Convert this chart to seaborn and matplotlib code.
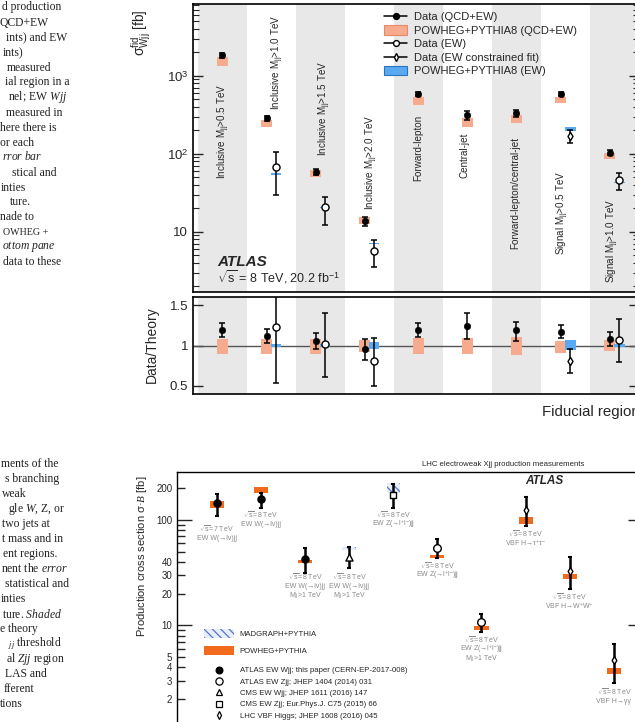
import numpy as np
import matplotlib
matplotlib.use("Agg")
import matplotlib.pyplot as plt
import matplotlib.transforms as mtrans
from matplotlib.lines import Line2D
from matplotlib.patches import Patch
from matplotlib.ticker import FixedLocator, FixedFormatter, NullFormatter
import seaborn as sns

# ---------------- top figure: W+2 jet fiducial cross sections ----------------
region_names = [
    r"Inclusive M$_{\rm jj}$>0.5 TeV", r"Inclusive M$_{\rm jj}$>1.0 TeV",
    r"Inclusive M$_{\rm jj}$>1.5 TeV", r"Inclusive M$_{\rm jj}$>2.0 TeV",
    "Forward-lepton", "Central-jet", "Forward-lepton/central-jet",
    r"Signal M$_{\rm jj}$>0.5 TeV", r"Signal M$_{\rm jj}$>1.0 TeV",
]
# QCD+EW data and POWHEG+PYTHIA8 prediction band [fb]
qcd_data = [1820, 285, 59, 13.8, 582, 313, 336, 582, 103]
qcd_lo = [1690, 264, 54, 11.8, 545, 272, 300, 548, 96]
qcd_hi = [1950, 306, 64, 15.6, 622, 352, 363, 618, 111]
qcd_theory_lo = [1330, 222, 50, 12.6, 421, 220, 248, 443, 86]
qcd_theory_hi = [1740, 270, 62, 15.3, 538, 287, 313, 528, 103]
# EW-only data (regions that have it) and POWHEG+PYTHIA8 (EW)
ew_regions = [1, 2, 3, 7, 8]
ew_data = [67.5, 20.6, 5.7, 170, 46]
ew_lo = [29.5, 12.2, 3.6, 139, 34.3]
ew_hi = [105, 28.1, 7.8, 203, 57]
ew_theory_lo = [54, 20.0, 6.9, 197, 42]
ew_theory_hi = [56, 21.0, 7.3, 222, 44]
ew_is_fit = [False, False, False, True, False]

# Data/Theory ratios
ratio_qcd = [1.195, 1.12, 1.06, 0.955, 1.195, 1.244, 1.186, 1.17, 1.08]
ratio_qcd_lo = [1.10, 1.03, 0.955, 0.82, 1.10, 1.08, 1.06, 1.09, 1.00]
ratio_qcd_hi = [1.28, 1.20, 1.16, 1.08, 1.28, 1.40, 1.29, 1.25, 1.17]
ratio_qcd_band_lo = [0.90, 0.90, 0.90, 0.92, 0.90, 0.90, 0.885, 0.91, 0.93]
ratio_qcd_band_hi = [1.08, 1.08, 1.08, 1.07, 1.09, 1.09, 1.10, 1.06, 1.07]
ratio_ew = [1.228, 1.017, 0.814, 0.81, 1.07]
ratio_ew_lo = [0.54, 0.616, 0.504, 0.665, 0.80]
ratio_ew_hi = [1.91, 1.40, 1.09, 0.955, 1.33]
ratio_ew_band_lo = [0.985, 0.985, 0.96, 0.94, 0.985]
ratio_ew_band_hi = [1.015, 1.015, 1.04, 1.07, 1.015]

# ---------------- bottom figure: LHC electroweak Xjj summary ----------------
meas_kind = ["atlas_wjj", "atlas_wjj", "atlas_wjj", "cms_wjj", "cms_zjj",
             "atlas_zjj", "atlas_zjj", "vbf_h", "vbf_h", "vbf_h"]
meas_value = [144, 157, 42.8, 44.4, 172, 54.7, 10.9, 124, 33, 4.73]
meas_lo = [109, 131, 31.7, 35, 129, 43.5, 8.6, 88, 22, 2.88]
meas_hi = [175, 181, 54, 55, 217, 65.6, 12.9, 164, 45, 6.7]
pred_gen = ["POWHEG", "POWHEG", "POWHEG", "MADGRAPH", "MADGRAPH",
            "POWHEG", "POWHEG", "POWHEG", "POWHEG", "POWHEG"]
pred_lo = [131, 181, 39.4, 52, 181, 44, 9.0, 92, 27.5, 3.49]
pred_hi = [152, 204, 41.7, 55.3, 222, 47, 9.9, 106, 30.6, 3.95]
meas_labels = [
    "$\\sqrt{\\rm s}$=7 TeV\nEW W(→lν)jj",
    "$\\sqrt{\\rm s}$=8 TeV\nEW W(→lν)jj",
    "$\\sqrt{\\rm s}$=8 TeV\nEW W(→lν)jj\nM$_{\\rm jj}$>1 TeV",
    "$\\sqrt{\\rm s}$=8 TeV\nEW W(→lν)jj\nM$_{\\rm jj}$>1 TeV",
    "$\\sqrt{\\rm s}$=8 TeV\nEW Z(→l$^{+}$l$^{-}$)jj",
    "$\\sqrt{\\rm s}$=8 TeV\nEW Z(→l$^{+}$l$^{-}$)jj",
    "$\\sqrt{\\rm s}$=8 TeV\nEW Z(→l$^{+}$l$^{-}$)jj\nM$_{\\rm jj}$>1 TeV",
    "$\\sqrt{\\rm s}$=8 TeV\nVBF H→τ$^{+}$τ$^{-}$",
    "$\\sqrt{\\rm s}$=8 TeV\nVBF H→W$^{+}$W$^{-}$",
    "$\\sqrt{\\rm s}$=8 TeV\nVBF H→γγ",
]
# first-line centre of each gray label, in image pixels (layout only)
label_row_px = [529, 515, 577, 577, 515, 566, 640, 534, 597, 692]
kind_legend = [
    ("atlas_wjj", "ATLAS EW Wjj; this paper (CERN-EP-2017-008)"),
    ("atlas_zjj", "ATLAS EW Zjj; JHEP 1404 (2014) 031"),
    ("cms_wjj", "CMS EW Wjj; JHEP 1611 (2016) 147"),
    ("cms_zjj", "CMS EW Zjj; Eur.Phys.J. C75 (2015) 66"),
    ("vbf_h", "LHC VBF Higgs; JHEP 1608 (2016) 045"),
]

# caption fragments of the page (text, right edge px, centre y px)
caption_top = [
    ("d production", 61, 7), ("QCD+EW", 49, 23), ("ints) and EW", 67, 37),
    ("ints)", 23, 53), ("measured", 51, 68), ("ial region in a", 70, 82),
    (r"nel; EW $\mathit{Wjj}$", 67, 97), ("measured in", 62, 113),
    ("here there is", 57, 128), ("or each", 34, 143), (r"$\mathit{rror\ bar}$", 42, 157),
    ("stical and", 57, 173), ("inties", 26, 188), ("ture.", 31, 202),
    ("nade to", 34, 217), ("OWHEG +", 48, 232), (r"$\mathit{ottom\ pane}$", 56, 247),
    ("data to these", 61, 262),
]
caption_bot = [
    ("ments of the", 58, 464), ("s branching", 59, 479), ("weak", 27, 494),
    (r"gle $\mathit{W}$, Z, or", 65, 509), ("two jets at", 50, 524),
    ("t mass and in", 63, 539), ("ent regions.", 57, 554),
    (r"nent the $\mathit{error}$", 68, 569), ("statistical and", 69, 584),
    ("inties", 26, 599), (r"ture. $\mathit{Shaded}$", 62, 614), ("e theory", 38, 629),
    (r"$_{\mathit{jj}}$ threshold", 62, 644), (r"al $\mathit{Zjj}$ region", 65, 659),
    ("LAS and", 47, 674), ("fferent", 34, 689), ("tions", 23, 704),
]

# ---------------- style ----------------
sns.set_style("white")
plt.rcParams["font.family"] = ["Liberation Sans", "DejaVu Sans"]
plt.rcParams["mathtext.fontset"] = "custom"
plt.rcParams["mathtext.rm"] = "Liberation Sans"
plt.rcParams["mathtext.sf"] = "Liberation Sans"
plt.rcParams["mathtext.it"] = "Liberation Serif:italic"
plt.rcParams["mathtext.bf"] = "Liberation Sans:bold"
plt.rcParams["hatch.linewidth"] = 0.9

band_grey = "#e8e8e8"
salmon = "#f6aa8e"
sky = "#58a9f0"
orange = "#f26a1c"
W, H = 635, 722

fig = plt.figure(figsize=(W / 100, H / 100), dpi=100)


def px_axes(left, top, right, bottom):
    return fig.add_axes([left / W, 1 - bottom / H, (right - left) / W, (bottom - top) / H])


def style_frame(ax, lw=1.2):
    for s in ax.spines.values():
        s.set_color("black")
        s.set_linewidth(lw)
    ax.set_facecolor("white")


ax_top = px_axes(193, 4, 639, 292)
ax_rat = px_axes(193, 297, 639, 394)
ax_bot = px_axes(177, 472, 643, 731)

n_reg = len(region_names)
qcd_x = np.array([i + 0.5 - (0.1 if i in ew_regions else 0.0) for i in range(n_reg)])
ew_x = np.array(ew_regions) + 0.6
ew_fit = np.array(ew_is_fit)

# ---- main panel ----
ax = ax_top
for i in range(0, n_reg, 2):
    ax.axvspan(i, i + 1, color=band_grey, lw=0, zorder=0)
ax.bar(qcd_x, np.array(qcd_theory_hi) - np.array(qcd_theory_lo), bottom=qcd_theory_lo,
       width=0.21, color=salmon, lw=0, zorder=2)
ax.bar(ew_x, np.array(ew_theory_hi) - np.array(ew_theory_lo), bottom=ew_theory_lo,
       width=0.21, color=sky, lw=0, zorder=2)
qd = np.array(qcd_data)
ax.errorbar(qcd_x, qd, yerr=[qd - qcd_lo, np.array(qcd_hi) - qd], fmt="none",
            ecolor="k", elinewidth=1.1, capsize=2, capthick=1.1, zorder=3)
ed = np.array(ew_data)
ax.errorbar(ew_x, ed, yerr=[ed - ew_lo, np.array(ew_hi) - ed], fmt="none",
            ecolor="k", elinewidth=1.1, capsize=2, capthick=1.1, zorder=3)
sns.scatterplot(x=qcd_x, y=qd, marker="o", s=22, color="k", edgecolor="k", ax=ax,
                zorder=4, legend=False)
sns.scatterplot(x=ew_x[~ew_fit], y=ed[~ew_fit], marker="o", s=26, color="white",
                edgecolor="k", linewidth=1, ax=ax, zorder=4, legend=False)
sns.scatterplot(x=ew_x[ew_fit], y=ed[ew_fit], marker="d", s=18, color="white",
                edgecolor="k", linewidth=1, ax=ax, zorder=4, legend=False)
ax.set_yscale("log")
ax.set_xlim(-0.1, 9.0)
ax.set_ylim(1.7, 8300)
ax.yaxis.set_major_locator(FixedLocator([10, 100, 1000]))
ax.yaxis.set_major_formatter(FixedFormatter(["10", "10$^{2}$", "10$^{3}$"]))
ax.yaxis.set_minor_locator(FixedLocator([m * 10.0 ** e for e in range(0, 4) for m in range(2, 10)]))
ax.yaxis.set_minor_formatter(NullFormatter())
ax.tick_params(axis="y", which="both", direction="in", left=True, right=True, labelsize=9.5)
ax.tick_params(axis="y", which="major", length=7, width=1)
ax.tick_params(axis="y", which="minor", length=4, width=0.8)
ax.tick_params(axis="x", bottom=False, labelbottom=False)
ax.set_xlabel("")
ax.set_ylabel("")
style_frame(ax)

label_xy = [(224, 131), (278, 62), (325, 108), (372, 162), (418, 148),
            (465, 155), (515, 193), (563, 213), (613, 241)]
for name, (lx, ly) in zip(region_names, label_xy):
    fig.text(lx / W, 1 - ly / H, name, rotation=90, ha="center", va="center", fontsize=7.1)

ax.text((217 - 193) / 446, (292 - 262) / 288, "ATLAS", transform=ax.transAxes,
        fontsize=11, fontweight="bold", fontstyle="italic", va="center", ha="left")
ax.text((217 - 193) / 446, (292 - 277) / 288, "$\\sqrt{\\rm s}$ = 8 TeV, 20.2 fb$^{-1}$",
        transform=ax.transAxes, fontsize=9, va="center", ha="left")

handles = [
    Line2D([], [], color="k", lw=1.1, marker="o", markersize=4.2),
    Patch(facecolor=salmon, edgecolor="#e48a68", lw=0.8),
    Line2D([], [], color="k", lw=1.1, marker="o", markersize=4.2, mfc="white"),
    Line2D([], [], color="k", lw=1.1, marker="d", markersize=3.6, mfc="white"),
    Patch(facecolor=sky, edgecolor="#2f73c0", lw=0.8),
]
labels = ["Data (QCD+EW)", "POWHEG+PYTHIA8 (QCD+EW)", "Data (EW)",
          "Data (EW constrained fit)", "POWHEG+PYTHIA8 (EW)"]
ax.legend(handles, labels, loc="upper left", bbox_to_anchor=(384 / W, 1 - 12 / H),
          bbox_transform=fig.transFigure, frameon=False, fontsize=8, handlelength=2.1,
          handleheight=0.9, handletextpad=0.6, labelspacing=0.27, borderpad=0,
          borderaxespad=0)

fig.text(141 / W, 1 - 33 / H, "σ$^{\\rm fid}_{\\rm Wjj}$ [fb]", rotation=90,
         ha="center", va="center", fontsize=10)

# ---- ratio panel ----
ax = ax_rat
for i in range(0, n_reg, 2):
    ax.axvspan(i, i + 1, color=band_grey, lw=0, zorder=0)
ax.axhline(1, color="#555555", lw=1, zorder=1)
ax.bar(qcd_x, np.array(ratio_qcd_band_hi) - np.array(ratio_qcd_band_lo),
       bottom=ratio_qcd_band_lo, width=0.21, color=salmon, lw=0, zorder=2)
ax.bar(ew_x, np.array(ratio_ew_band_hi) - np.array(ratio_ew_band_lo),
       bottom=ratio_ew_band_lo, width=0.21, color=sky, lw=0, zorder=2)
rq = np.array(ratio_qcd)
ax.errorbar(qcd_x, rq, yerr=[rq - ratio_qcd_lo, np.array(ratio_qcd_hi) - rq], fmt="none",
            ecolor="k", elinewidth=1.1, capsize=2, capthick=1.1, zorder=3)
re = np.array(ratio_ew)
ax.errorbar(ew_x, re, yerr=[re - ratio_ew_lo, np.array(ratio_ew_hi) - re], fmt="none",
            ecolor="k", elinewidth=1.1, capsize=2, capthick=1.1, zorder=3)
sns.scatterplot(x=qcd_x, y=rq, marker="o", s=22, color="k", edgecolor="k", ax=ax,
                zorder=4, legend=False)
sns.scatterplot(x=ew_x[~ew_fit], y=re[~ew_fit], marker="o", s=26, color="white",
                edgecolor="k", linewidth=1, ax=ax, zorder=4, legend=False)
sns.scatterplot(x=ew_x[ew_fit], y=re[ew_fit], marker="d", s=18, color="white",
                edgecolor="k", linewidth=1, ax=ax, zorder=4, legend=False)
ax.set_xlim(-0.1, 9.0)
ax.set_ylim(0.4, 1.6)
ax.set_yticks([0.5, 1, 1.5], ["0.5", "1", "1.5"])
ax.tick_params(axis="y", direction="in", left=True, right=True, length=7, width=1, labelsize=9.5)
ax.tick_params(axis="x", bottom=False, labelbottom=False)
ax.set_xlabel("")
ax.set_ylabel("")
style_frame(ax)
fig.text(152 / W, 1 - 345 / H, "Data/Theory", rotation=90, ha="center", va="center", fontsize=10)
fig.text(542 / W, 1 - 412 / H, "Fiducial region", ha="left", va="center", fontsize=10.8)

# ---- bottom summary panel ----
ax = ax_bot
xb = np.arange(len(meas_value))
gen = np.array(pred_gen)
plo, phi = np.array(pred_lo), np.array(pred_hi)
mg_face, mg_edge = "#e8edfa", "#5676c9"
sel = gen == "POWHEG"
ax.bar(xb[sel], (phi - plo)[sel], bottom=plo[sel], width=0.32, color=orange, lw=0, zorder=2)
sel = gen == "MADGRAPH"
ax.bar(xb[sel], (phi - plo)[sel], bottom=plo[sel], width=0.3, facecolor=mg_face,
       edgecolor=mg_edge, hatch="\\\\\\\\", lw=0, zorder=2)
mv = np.array(meas_value)
ax.errorbar(xb, mv, yerr=[mv - meas_lo, np.array(meas_hi) - mv], fmt="none",
            ecolor="k", elinewidth=1.8, capsize=1.5, capthick=1.5, zorder=3)
kinds = np.array(meas_kind)
marker_style = {
    "atlas_wjj": ("o", "k", 26),
    "atlas_zjj": ("o", "white", 30),
    "cms_wjj": ("^", "white", 26),
    "cms_zjj": ("s", "white", 24),
    "vbf_h": ("d", "white", 16),
}
for kind, (mk, face, size) in marker_style.items():
    sel = kinds == kind
    sns.scatterplot(x=xb[sel], y=mv[sel], marker=mk, s=size, color=face, edgecolor="k",
                    linewidth=1, ax=ax, zorder=4, legend=False)
ax.set_yscale("log")
ax.set_xlim(-0.9, 9.66)
ax.set_ylim(1, 285)
ax.yaxis.set_major_locator(FixedLocator([10, 100]))
ax.yaxis.set_major_formatter(FixedFormatter(["10", "100"]))
minor_vals = [m * 10.0 ** e for e in range(0, 3) for m in range(2, 10)]
ax.yaxis.set_minor_locator(FixedLocator(minor_vals))
named = {2: "2", 3: "3", 4: "4", 5: "5", 20: "20", 30: "30", 40: "40", 200: "200"}
ax.yaxis.set_minor_formatter(FixedFormatter([named.get(int(round(v)), "") for v in minor_vals]))
ax.tick_params(axis="y", which="both", direction="in", left=True, right=True, labelsize=7)
ax.tick_params(axis="y", which="major", length=11, width=1)
ax.tick_params(axis="y", which="minor", length=6, width=1)
ax.tick_params(axis="x", bottom=False, labelbottom=False)
ax.set_xlabel("")
ax.set_ylabel("")
style_frame(ax, lw=1)

tr = mtrans.blended_transform_factory(ax.transData, fig.transFigure)
for x, lab, row in zip(xb, meas_labels, label_row_px):
    for k, line in enumerate(lab.split("\n")):
        ax.text(x, 1 - (row + 9.4 * k) / H, line, transform=tr, ha="center", va="center",
                fontsize=5.0, color="#8a8a8a")

ax.text((544 - 177) / 466, (731 - 481) / 259, "ATLAS", transform=ax.transAxes,
        ha="center", va="center", fontsize=8.5, fontweight="bold", fontstyle="italic")
fig.text(503 / W, 1 - 464 / H, "LHC electroweak Xjj production measurements",
         ha="center", va="center", fontsize=5.6)
fig.text(142 / W, 1 - 556 / H, "Production cross section σ·$\\mathit{B}$ [fb]", rotation=90,
         ha="center", va="center", fontsize=8)

leg1 = ax.legend(
    [Patch(facecolor=mg_face, edgecolor=mg_edge, hatch="\\\\\\\\", lw=0),
     Patch(facecolor=orange, lw=0)],
    ["MADGRAPH+PYTHIA", "POWHEG+PYTHIA"], loc="upper left",
    bbox_to_anchor=(204 / W, 1 - 629 / H), bbox_transform=fig.transFigure, frameon=False,
    fontsize=5.6, handlelength=3.8, handleheight=1.45, handletextpad=0.8,
    labelspacing=0.95, borderpad=0, borderaxespad=0)
ax.add_artist(leg1)
mk_handles = []
for kind, _ in kind_legend:
    mk, face, size = marker_style[kind]
    mk_handles.append(Line2D([], [], ls="none", marker=mk, mfc=face, mec="k",
                             markersize=np.sqrt(size) * 0.95, mew=0.9))
ax.legend(mk_handles, [t for _, t in kind_legend], loc="upper left",
          bbox_to_anchor=(204 / W, 1 - 667 / H), bbox_transform=fig.transFigure,
          frameon=False, fontsize=5.6, handlelength=3.8, handletextpad=0.8,
          labelspacing=0.5, borderpad=0, borderaxespad=0, numpoints=1)

# ---- clipped caption text of the page ----
serif = ["Liberation Serif", "DejaVu Serif"]
for txt, xr, yc in caption_top + caption_bot:
    size = 7.2 if txt.startswith("OWHEG") else 8.4
    fig.text(xr / W, 1 - yc / H, txt, ha="right", va="center", fontsize=size,
             family=serif, color="#222222")

fig.savefig("out.png", dpi=100)
